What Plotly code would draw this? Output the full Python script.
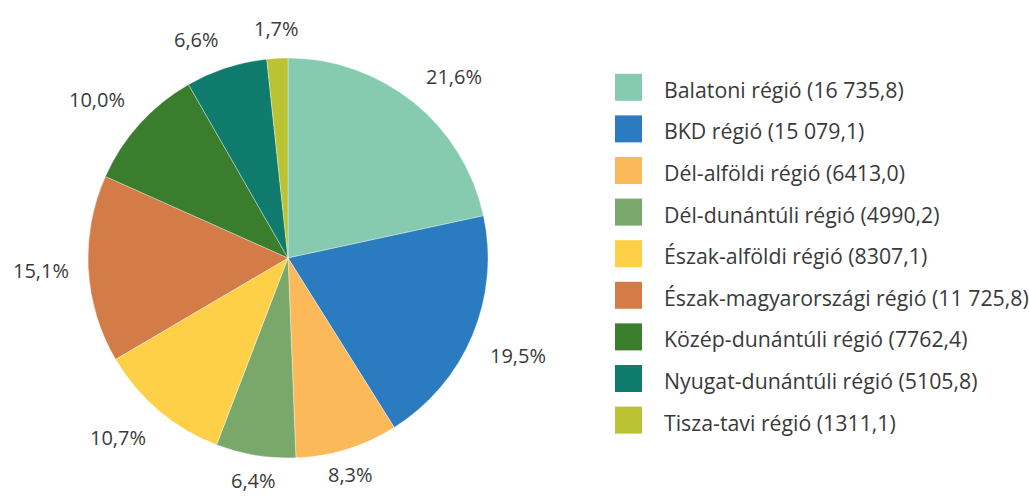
import math
import plotly.graph_objects as go

regions = ["Balatoni régió", "BKD régió", "Dél-alföldi régió", "Dél-dunántúli régió",
           "Észak-alföldi régió", "Észak-magyarországi régió", "Közép-dunántúli régió",
           "Nyugat-dunántúli régió", "Tisza-tavi régió"]
values = [16735.8, 15079.1, 6413.0, 4990.2, 8307.1, 11725.8, 7762.4, 5105.8, 1311.1]
colors = ["#86cbb0", "#2a7bc0", "#fbb95a", "#7aa86b", "#fdd047",
          "#d47c47", "#3a7d2c", "#0f7b6c", "#b9c334"]

W, H = 1029, 497
FONT = "Open Sans"
TXT = "#3a3a3a"


def hu_num(v):
    s = f"{v:.1f}".replace(".", ",")
    ip, dp = s.split(",")
    if len(ip) > 4:
        ip = ip[:-3] + " " + ip[-3:]
    return ip + "," + dp


def px_x(x):
    return x / W


def px_y(y):
    return 1 - y / H


cx, cy, R, RL = 288, 258, 200, 217

fig = go.Figure()
fig.add_trace(go.Pie(
    labels=regions, values=values, sort=False, direction="clockwise", rotation=0,
    domain=dict(x=[px_x(cx - R), px_x(cx + R)], y=[px_y(cy + R), px_y(cy - R)]),
    marker=dict(colors=colors, line=dict(color="rgba(255,255,255,0.6)", width=0.6)),
    textinfo="none", showlegend=False,
))

annotations, shapes = [], []

# percentage labels placed outside each slice, derived from the data
total = sum(values)
cum = 0.0
for v in values:
    frac = v / total
    theta = 2 * math.pi * (cum + frac / 2)
    cum += frac
    s, c = math.sin(theta), math.cos(theta)
    xa = "left" if s > 0.3 else ("right" if s < -0.3 else "center")
    ya = "middle" if abs(c) < 0.3 else ("bottom" if c > 0 else "top")
    r = RL if c > -0.9 else RL - 5
    annotations.append(dict(
        xref="paper", yref="paper", x=px_x(cx + r * s), y=px_y(cy - r * c),
        xanchor=xa, yanchor=ya, showarrow=False, height=22, valign="middle",
        text=f"{frac * 100:.1f}%".replace(".", ","),
        font=dict(family=FONT, size=20, color=TXT)))

# custom legend
sq = 27
lx0, ly0, step = 615, 87.3, 41.6
for i, (name, val, col) in enumerate(zip(regions, values, colors)):
    yc = ly0 + i * step
    shapes.append(dict(type="rect", xref="paper", yref="paper",
                       x0=px_x(lx0), x1=px_x(lx0 + sq),
                       y0=px_y(yc + sq / 2), y1=px_y(yc - sq / 2),
                       fillcolor=col, line=dict(width=0)))
    annotations.append(dict(xref="paper", yref="paper", x=px_x(662), y=px_y(yc + 2),
                            xanchor="left", yanchor="middle", showarrow=False,
                            text=f"{name} ({hu_num(val)})",
                            font=dict(family=FONT, size=21.3, color=TXT)))

fig.update_layout(
    width=W, height=H, margin=dict(l=0, r=0, t=0, b=0),
    paper_bgcolor="white", plot_bgcolor="white",
    separators=", ", shapes=shapes, annotations=annotations,
    font=dict(family=FONT, color=TXT),
)
fig.write_html("out.html", config={"displayModeBar": False},
               post_script="document.body.style.margin='0';")
